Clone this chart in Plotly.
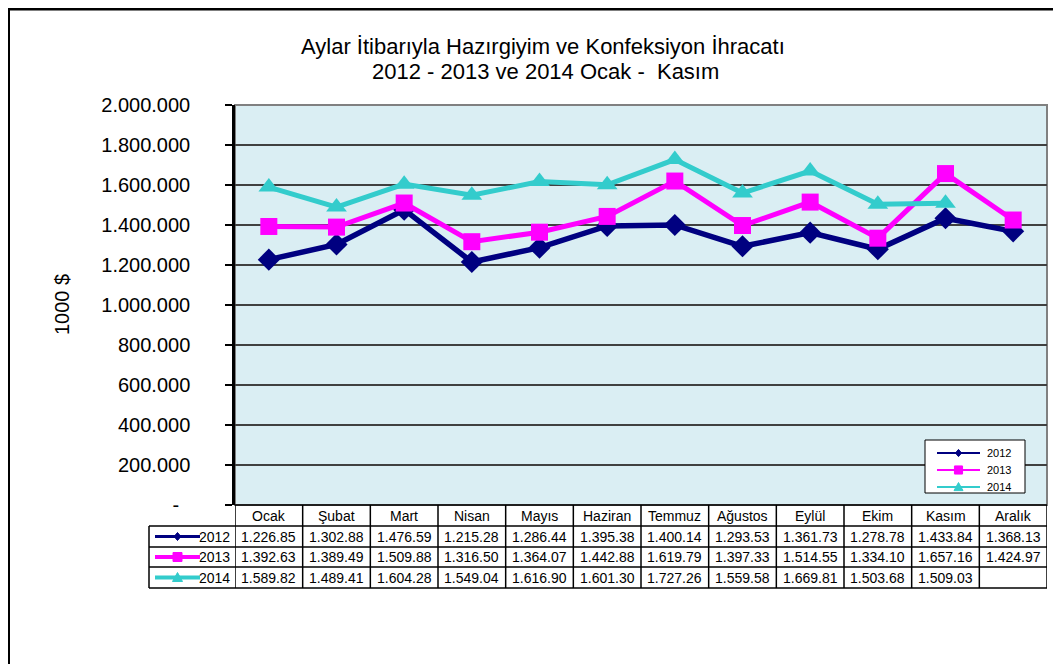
import plotly.graph_objects as go

months = ["Ocak", "Şubat", "Mart", "Nisan", "Mayıs", "Haziran", "Temmuz",
          "Ağustos", "Eylül", "Ekim", "Kasım", "Aralık"]
years = ["2012", "2013", "2014"]
v2012 = [1226.85, 1302.88, 1476.59, 1215.28, 1286.44, 1395.38, 1400.14,
         1293.53, 1361.73, 1278.78, 1433.84, 1368.13]
v2013 = [1392.63, 1389.49, 1509.88, 1316.50, 1364.07, 1442.88, 1619.79,
         1397.33, 1514.55, 1334.10, 1657.16, 1424.97]
v2014 = [1589.82, 1489.41, 1604.28, 1549.04, 1616.90, 1601.30, 1727.26,
         1559.58, 1669.81, 1503.68, 1509.03, None]
series = [v2012, v2013, v2014]
ytickvals = [0, 200000, 400000, 600000, 800000, 1000000, 1200000, 1400000,
             1600000, 1800000, 2000000]
yticktext = ["-\u00a0\u00a0", "200.000", "400.000", "600.000", "800.000", "1.000.000",
             "1.200.000", "1.400.000", "1.600.000", "1.800.000", "2.000.000"]

colors = ["#000080", "#FF00FF", "#33CCCC"]
symbols = ["diamond", "square", "triangle-up"]
msizes = [17, 17, 18]
lwidths = [5.5, 5, 5]

OFF = 8  # page body margin
W, H = 1061 - OFF, 664 - OFF
# plot area in screen pixels
L, R, T, B = 235, 1047, 105, 505


def px(x):
    return (x - L) / (R - L)


def py(y):
    return (B - y) / (B - T)


def fmt(v):
    if v is None:
        return ""
    return f"{v:,.2f}".replace(",", ".")


fig = go.Figure()
for name, vals, c, s, ms, lw in zip(years, series, colors, symbols, msizes, lwidths):
    fig.add_trace(go.Scatter(
        x=list(range(len(months))),
        y=[None if v is None else v * 1000 for v in vals],
        mode="lines+markers", name=name, showlegend=False,
        line=dict(color=c, width=lw),
        marker=dict(symbol=s, size=ms, color=c),
    ))

shapes = []
ann = []
black = dict(color="black", width=1.5)

# plot area border (gray)
shapes.append(dict(type="rect", xref="paper", yref="paper", x0=0, x1=1, y0=0, y1=1,
                   line=dict(color="#808080", width=2), layer="below"))
# outer chart border (top and left)
shapes.append(dict(type="line", xref="paper", yref="paper", x0=px(8.5), x1=px(1061),
                   y0=py(9), y1=py(9), line=dict(color="black", width=3)))
shapes.append(dict(type="line", xref="paper", yref="paper", x0=px(8.5), x1=px(8.5),
                   y0=py(7.5), y1=py(664), line=dict(color="black", width=3)))


def key(cx, yc, r, x0, x1, lw, scale):
    shapes.append(dict(type="line", xref="paper", yref="paper", x0=px(x0), x1=px(x1),
                       y0=py(yc), y1=py(yc), line=dict(color=colors[r], width=lw)))
    if r == 0:
        d = 4 * scale
        path = (f"M {px(cx)} {py(yc-d)} L {px(cx+d*0.85)} {py(yc)} L {px(cx)} {py(yc+d)} "
                f"L {px(cx-d*0.85)} {py(yc)} Z")
        shapes.append(dict(type="path", xref="paper", yref="paper", path=path,
                           fillcolor=colors[r], line=dict(color=colors[r], width=1)))
    elif r == 1:
        d = 4.5 * scale
        shapes.append(dict(type="rect", xref="paper", yref="paper", x0=px(cx-d), x1=px(cx+d),
                           y0=py(yc-d), y1=py(yc+d), fillcolor=colors[r],
                           line=dict(color=colors[r], width=1)))
    else:
        d = 5 * scale
        path = (f"M {px(cx)} {py(yc-d)} L {px(cx+d)} {py(yc+d*0.8)} "
                f"L {px(cx-d)} {py(yc+d*0.8)} Z")
        shapes.append(dict(type="path", xref="paper", yref="paper", path=path,
                           fillcolor=colors[r], line=dict(color=colors[r], width=1)))


# data table
row_lines = [505, 526, 547, 567, 588]
for i, yl in enumerate(row_lines):
    x0 = L if i == 0 else 149
    shapes.append(dict(type="line", xref="paper", yref="paper", x0=px(x0), x1=1,
                       y0=py(yl), y1=py(yl), line=black))
shapes.append(dict(type="line", xref="paper", yref="paper", x0=px(149), x1=px(149),
                   y0=py(526), y1=py(588), line=black))
for i in range(len(months) + 1):
    shapes.append(dict(type="line", xref="x", yref="paper", x0=i - 0.5, x1=i - 0.5,
                       y0=py(505), y1=py(588), line=black))

row_centers = [536.5, 557, 577.5]
for i, m in enumerate(months):
    ann.append(dict(x=i, y=py(516), xref="x", yref="paper", text=m, showarrow=False,
                    font=dict(size=14, color="black"), yanchor="middle"))
for r, vals in enumerate(series):
    for i, v in enumerate(vals):
        ann.append(dict(x=i, y=py(row_centers[r]), xref="x", yref="paper", text=fmt(v),
                        showarrow=False, font=dict(size=14, color="black"), yanchor="middle"))
    yc = row_centers[r]
    key(177.5, yc, r, 155, 200, 3 if r == 0 else 4, 1.0)
    ann.append(dict(x=px(232), y=py(yc), xref="paper", yref="paper", text=years[r],
                    showarrow=False, xanchor="right", yanchor="middle",
                    font=dict(size=14, color="black")))

# legend box inside the plot
shapes.append(dict(type="rect", xref="paper", yref="paper", x0=px(925), x1=px(1025),
                   y0=py(440), y1=py(493), fillcolor="white",
                   line=dict(color="black", width=1), layer="above"))
leg_rows = [453, 470, 487]
for r in range(3):
    key(958.5, leg_rows[r], r, 937, 980, 2, 0.9)
    ann.append(dict(x=px(985), y=py(leg_rows[r]), xref="paper", yref="paper", text=years[r],
                    showarrow=False, xanchor="left", yanchor="middle",
                    font=dict(size=11, color="black")))

# title
ann.append(dict(x=px(543), y=py(46), xref="paper", yref="paper",
                text="Aylar İtibarıyla Hazırgiyim ve Konfeksiyon İhracatı",
                showarrow=False, font=dict(size=22, color="black"), yanchor="middle"))
ann.append(dict(x=px(545), y=py(71), xref="paper", yref="paper",
                text="2012 - 2013 ve 2014 Ocak -\u00a0 Kasım",
                showarrow=False, font=dict(size=22, color="black"), yanchor="middle"))
# y axis title
ann.append(dict(x=px(62), y=py(305), xref="paper", yref="paper", text="1000 $",
                textangle=-90, showarrow=False, font=dict(size=20, color="black"),
                xanchor="center", yanchor="middle"))

fig.update_layout(
    width=W, height=H, autosize=False,
    margin=dict(l=L - OFF, r=W - (R - OFF), t=T - OFF, b=H - (B - OFF)),
    paper_bgcolor="white", plot_bgcolor="#DAEEF3",
    font=dict(family="Liberation Sans, Arial, sans-serif", color="black"),
    showlegend=False,
    shapes=shapes, annotations=ann,
    xaxis=dict(range=[-0.5, len(months) - 0.5], showticklabels=False, showgrid=False,
               zeroline=False, showline=False, ticks=""),
    yaxis=dict(range=[0, 2000000], tickvals=ytickvals, ticktext=yticktext,
               showgrid=True, gridcolor="#404040", gridwidth=1.5, zeroline=False,
               showline=True, linecolor="black", linewidth=2.5,
               ticks="outside", ticklen=7, tickwidth=1.5, tickcolor="black",
               tickfont=dict(size=20, color="black"), ticklabelstandoff=31),
)

fig.write_html("out.html")
